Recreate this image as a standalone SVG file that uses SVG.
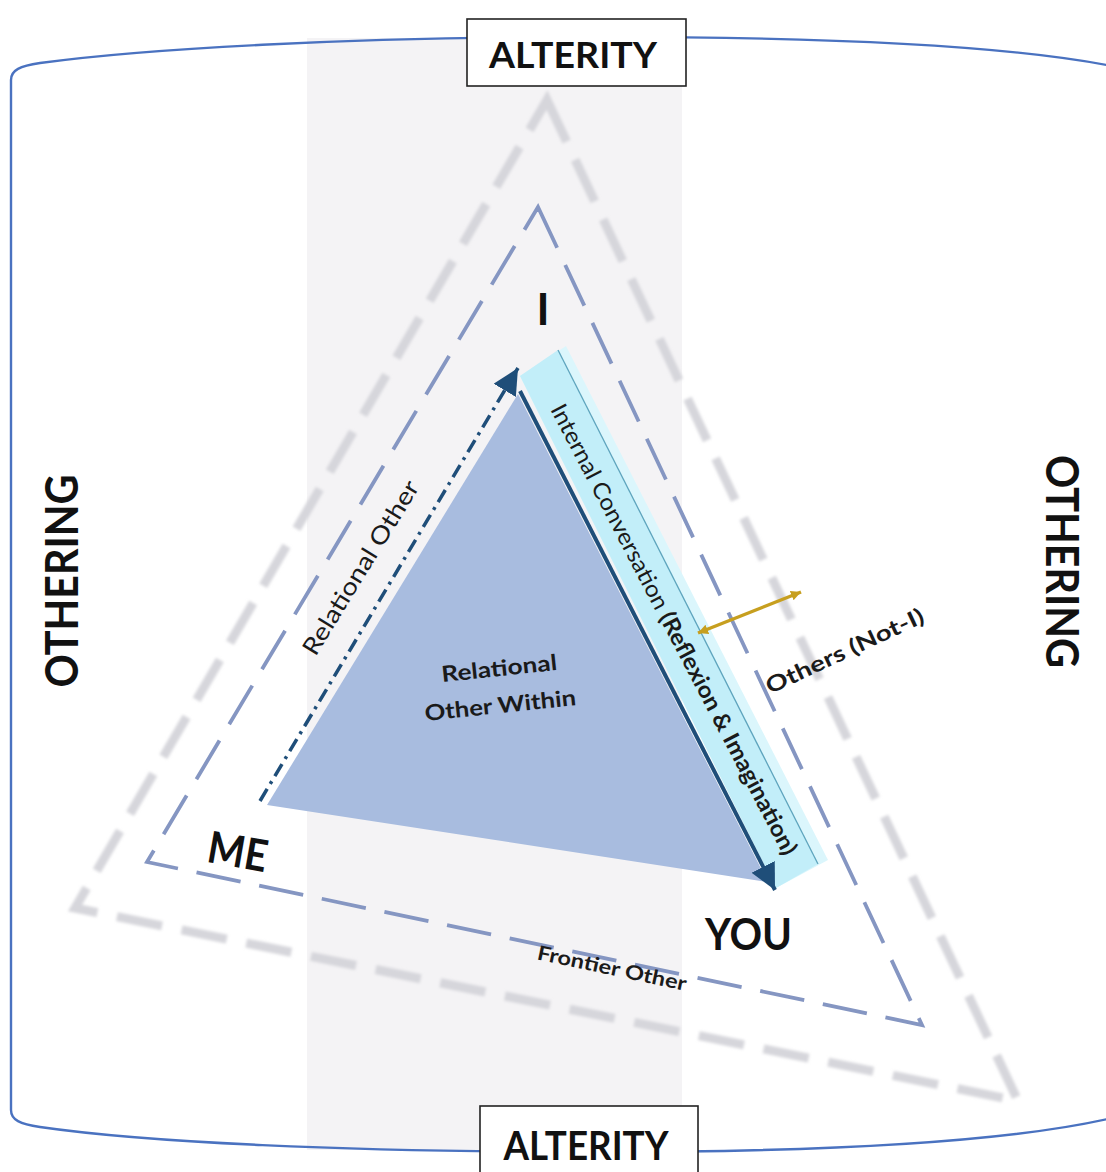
<svg xmlns="http://www.w3.org/2000/svg" width="1106" height="1172" viewBox="0 0 1106 1172">
  <defs>
    <style>
      .hdr { font-family: Lato, "Open Sans", "Liberation Sans", sans-serif; font-weight: 700; fill: #111; }
      .lbl { font-family: Lato, "Open Sans", "Liberation Sans", sans-serif; fill: #1a1a1a; }
      .b { font-weight: 700; }
      .cyl { fill: none; stroke: #4a72c0; stroke-width: 2.4; }
      .box { fill: #fff; stroke: #222; stroke-width: 1.6; }
      .outer { fill: none; stroke: #d6d6db; stroke-width: 9; stroke-dasharray: 46 20; stroke-linejoin: miter; }
      .middle { fill: none; stroke: #8596c2; stroke-width: 3.8; stroke-dasharray: 45 19; }
    </style>
    <filter id="soft" x="-5%" y="-5%" width="110%" height="110%">
      <feGaussianBlur stdDeviation="1.6"/>
    </filter>
    <marker id="headDark" markerUnits="userSpaceOnUse" markerWidth="28" markerHeight="28" refX="26" refY="13" orient="auto">
      <path d="M0,0 L26,13 L0,26 Z" fill="#1f4e79"/>
    </marker>
    <marker id="headGold" markerUnits="userSpaceOnUse" markerWidth="12" markerHeight="12" refX="10" refY="5" orient="auto-start-reverse">
      <path d="M0,0 L10,5 L0,10 Z" fill="#c79f1f"/>
    </marker>
  </defs>

  <rect width="1106" height="1172" fill="#fff"/>
  <!-- light vertical band behind the centre -->
  <rect x="307" y="38" width="375" height="1112" fill="#f4f3f5"/>

  <!-- cylinder outline -->
  <g id="cylinder">
    <path class="cyl" d="M 11 1110 V 80 C 11 70 20 66 40 63 C 150 48 350 38 560 37 C 800 36 1000 44 1112 66"/>
    <path class="cyl" d="M 11 1110 C 11 1120 20 1124 40 1127 C 150 1143 350 1151 560 1152 C 800 1153 1000 1144 1112 1118"/>
  </g>

  <!-- outer dashed triangle -->
  <g id="frontier-outer" filter="url(#soft)">
    <path class="outer" d="M 547 100 L 1018 1101 L 75 908 Z"/>
  </g>

  <!-- middle dashed triangle -->
  <g id="frontier-middle">
    <path class="middle" d="M 538 207 L 922 1025 L 147 862 Z"/>
  </g>

  <!-- conversation band along the right edge -->
  <g id="conversation-band">
    <polygon points="520,376 566,346 828,860 776,888" fill="#dbf6fc"/>
    <polygon points="520,376 558,350 818,864 776,888" fill="#c2eef9"/>
    <line x1="558" y1="350" x2="818" y2="864" stroke="#5ea4bd" stroke-width="1.3"/>
  </g>

  <!-- inner triangle -->
  <g id="inner-triangle">
    <polygon points="518,394 267,805 768,882" fill="#a8bcdf"/>
  </g>

  <!-- connectors -->
  <g id="connectors">
    <line x1="520" y1="391" x2="775" y2="890" stroke="#1f4e79" stroke-width="4" marker-end="url(#headDark)"/>
    <line x1="260" y1="801" x2="518" y2="368" stroke="#1f4e79" stroke-width="3.5" stroke-dasharray="14 6 3 6" marker-end="url(#headDark)"/>
    <line x1="698" y1="633" x2="801" y2="592" stroke="#c79f1f" stroke-width="3.4" marker-start="url(#headGold)" marker-end="url(#headGold)"/>
  </g>

  <!-- labels -->
  <g id="label-alterity-top">
    <rect class="box" x="467" y="19" width="219" height="67"/>
    <text class="hdr" x="573" y="68" font-size="37" text-anchor="middle" textLength="168" lengthAdjust="spacingAndGlyphs">ALTERITY</text>
  </g>
  <g id="label-alterity-bottom">
    <rect class="box" x="480" y="1106" width="218" height="75"/>
    <text class="hdr" x="586" y="1160" font-size="40" text-anchor="middle" textLength="165" lengthAdjust="spacingAndGlyphs">ALTERITY</text>
  </g>
  <g id="label-othering-left">
    <text class="hdr" transform="translate(61.5 581) rotate(-90)" y="16.5" font-size="46" text-anchor="middle" textLength="213" lengthAdjust="spacingAndGlyphs">OTHERING</text>
  </g>
  <g id="label-othering-right">
    <text class="hdr" transform="translate(1062.5 561.5) rotate(90)" y="16.5" font-size="46" text-anchor="middle" textLength="213" lengthAdjust="spacingAndGlyphs">OTHERING</text>
  </g>
  <g id="label-i">
    <text class="hdr" x="543" y="325" font-size="44" text-anchor="middle">I</text>
  </g>
  <g id="label-me">
    <text class="hdr" transform="translate(235 867) rotate(10)" font-size="44" text-anchor="middle" textLength="60" lengthAdjust="spacingAndGlyphs">ME</text>
  </g>
  <g id="label-you">
    <text class="hdr" x="748.5" y="950" font-size="44" text-anchor="middle" textLength="87" lengthAdjust="spacingAndGlyphs">YOU</text>
  </g>
  <g id="label-relational-other">
    <text class="lbl" transform="translate(367.7 572) rotate(-58.45)" font-size="24" text-anchor="middle" textLength="200" lengthAdjust="spacingAndGlyphs">Relational Other</text>
  </g>
  <g id="label-internal-conversation">
    <text class="lbl" transform="translate(667 633) rotate(62.4)" font-size="23" text-anchor="middle" textLength="505" lengthAdjust="spacingAndGlyphs">Internal Conversation <tspan class="b">(Reflexion &amp; Imagination)</tspan></text>
  </g>
  <g id="label-relational-other-within">
    <text class="lbl b" transform="translate(500 676) rotate(-6)" font-size="22" text-anchor="middle" textLength="116" lengthAdjust="spacingAndGlyphs">Relational</text>
    <text class="lbl b" transform="translate(501 713) rotate(-6)" font-size="22" text-anchor="middle" textLength="152" lengthAdjust="spacingAndGlyphs">Other Within</text>
  </g>
  <g id="label-others-not-i">
    <text class="lbl b" transform="translate(848 658) rotate(-25)" font-size="22" text-anchor="middle" textLength="172" lengthAdjust="spacingAndGlyphs">Others (Not-I)</text>
  </g>
  <g id="label-frontier-other">
    <text class="lbl b" transform="translate(610.5 975) rotate(12)" font-size="20" text-anchor="middle" textLength="152" lengthAdjust="spacingAndGlyphs">Frontier Other</text>
  </g>
</svg>
